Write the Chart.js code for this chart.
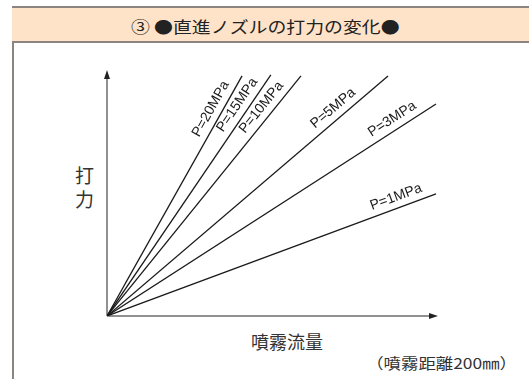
<!DOCTYPE html>
<html>
<head>
<meta charset="utf-8">
<script src="https://cdn.jsdelivr.net/npm/chart.js@4"></script>
<style>
  body { margin: 0; background: #fff; font-family: "Noto Sans CJK JP", sans-serif; color: #333; }
  #wrap { position: relative; width: 529px; height: 379px; overflow: hidden; }
  #frame { position: absolute; left: 12px; top: 6px; width: 530px; height: 400px; border-left: 2px solid #8c8480; box-sizing: border-box; }
  #head { position: absolute; left: 12px; top: 6px; width: 520px; height: 37px; background: #fee3c9;
          border-top: 2px solid #8c8480; border-bottom: 2px solid #8c8480; box-sizing: border-box; }
  #title { position: absolute; left: 131px; top: 16px; font-size: 16px; line-height: 20px; color: #222;
           transform: scaleX(1.18); transform-origin: left center; }
  .lbl { position: absolute; white-space: nowrap; }
  #ylab { left: 75px; top: 163px; width: 20px; font-size: 19px; line-height: 24px; }
  #xlab { left: 251px; top: 328px; font-size: 18px; }
  #note { right: 12px; top: 353px; font-size: 15px; line-height: 20px; transform: scaleX(1.16); transform-origin: right center; }
  #chart { position: absolute; left: 0; top: 0; }
</style>
</head>
<body>
<div id="wrap">
  <div id="frame"></div>
  <div id="head"></div>
  <div class="lbl" id="title">③ ●直進ノズルの打力の変化●</div>
  <div class="lbl" id="ylab">打<br>力</div>
  <div class="lbl" id="xlab">噴霧流量</div>
  <div class="lbl" id="note">（噴霧距離200㎜）</div>
  <canvas id="chart" width="529" height="379"></canvas>
</div>
<script>
// line names and where each line ends (flow, force) on a 0-100 scale
const pressures = ['P=20MPa', 'P=15MPa', 'P=10MPa', 'P=5MPa', 'P=3MPa', 'P=1MPa'];
const flowEnd = [40.8, 49.5, 58.6, 84.9, 99.4, 99.4];
const forceEnd = [97.6, 98.0, 97.6, 97.6, 86.2, 49.6];

const datasets = pressures.map((p, i) => ({
    label: p,
    data: [{x: 0, y: 0}, {x: flowEnd[i], y: forceEnd[i]}],
    borderColor: '#1a1a1a',
    borderWidth: 1.3,
    pointRadius: 0,
    showLine: true
}));

// axes with arrow heads
const arrowAxes = {
    id: 'arrowAxes',
    beforeDatasetsDraw(chart) {
        const {ctx, chartArea: a} = chart;
        ctx.save();
        ctx.strokeStyle = '#6e6e6e';
        ctx.fillStyle = '#222';
        ctx.lineWidth = 1.5;
        ctx.beginPath();
        ctx.moveTo(a.left, a.bottom);
        ctx.lineTo(a.left, a.top + 6);
        ctx.moveTo(a.left, a.bottom);
        ctx.lineTo(a.right - 6, a.bottom);
        ctx.stroke();
        ctx.beginPath();
        ctx.moveTo(a.left, a.top);
        ctx.lineTo(a.left - 3, a.top + 9);
        ctx.lineTo(a.left + 3, a.top + 9);
        ctx.closePath();
        ctx.moveTo(a.right, a.bottom);
        ctx.lineTo(a.right - 9, a.bottom - 3);
        ctx.lineTo(a.right - 9, a.bottom + 3);
        ctx.closePath();
        ctx.fill();
        ctx.restore();
    }
};

// pressure label written along each line, at a fraction of its length
const labelAt = [0.84, 0.85, 0.84, 0.83, 0.885, 0.89];
const lineLabels = {
    id: 'lineLabels',
    afterDatasetsDraw(chart) {
        const ctx = chart.ctx;
        ctx.save();
        ctx.font = '14px "Liberation Sans", Arial, sans-serif';
        ctx.fillStyle = '#1a1a1a';
        ctx.textAlign = 'center';
        ctx.textBaseline = 'bottom';
        chart.data.datasets.forEach((ds, i) => {
            const pts = chart.getDatasetMeta(i).data;
            const p0 = pts[0], p1 = pts[1];
            const ang = Math.atan2(p1.y - p0.y, p1.x - p0.x);
            const t = labelAt[i];
            ctx.save();
            ctx.translate(p0.x + (p1.x - p0.x) * t, p0.y + (p1.y - p0.y) * t);
            ctx.rotate(ang);
            ctx.fillText(ds.label, 0, -4);
            ctx.restore();
        });
        ctx.restore();
    }
};

new Chart(document.getElementById('chart'), {
    type: 'scatter',
    data: { datasets: datasets },
    options: {
        responsive: false,
        animation: false,
        layout: { padding: { left: 107, right: 91, top: 70, bottom: 63 } },
        scales: {
            x: { type: 'linear', min: 0, max: 100, display: false },
            y: { type: 'linear', min: 0, max: 100, display: false }
        },
        plugins: {
            legend: { display: false },
            tooltip: { enabled: false }
        }
    },
    plugins: [arrowAxes, lineLabels]
});
</script>
</body>
</html>
